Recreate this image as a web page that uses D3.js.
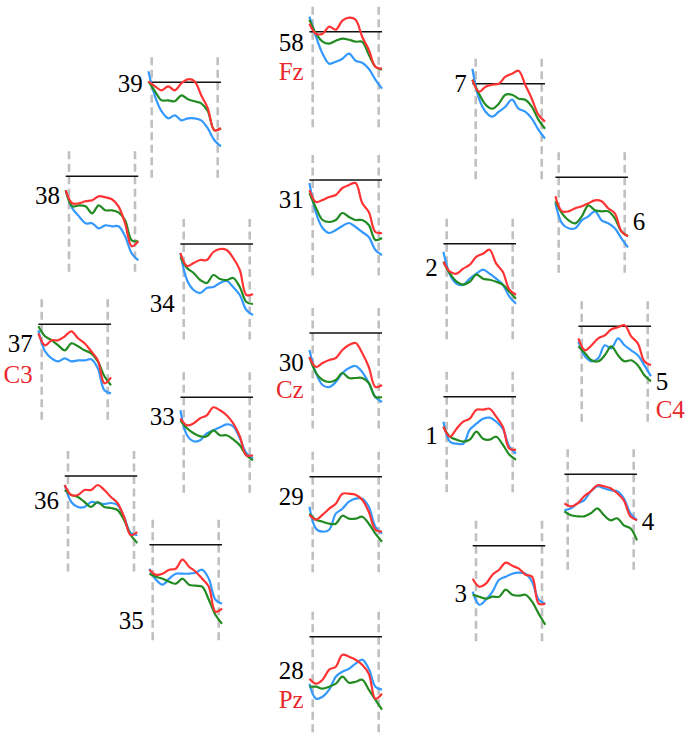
<!DOCTYPE html>
<html>
<head>
<meta charset="utf-8">
<script src="https://cdn.jsdelivr.net/npm/d3@7"></script>
<style>
  body { margin: 0; background: #fff; }
  svg { display: block; }
</style>
</head>
<body>
<div id="chart"></div>
<script>
// channel numbers and 10-20 site names
const channels = ["58", "39", "7", "38", "31", "6", "34", "2", "37", "30", "5", "33", "1", "36", "29", "4", "35", "3", "28"];
const sites = ["Fz", "", "", "", "", "", "", "", "C3", "Cz", "C4", "", "", "", "", "", "", "", "Pz"];

// sample times (ms); dashed markers at 0 and 1000
const times = [-50, 50, 150, 250, 350, 450, 550, 650, 750, 850, 950, 1050];
const markers = [0, 1000];

// amplitude per channel, one row per channel (same order as channels)
const redSeries = [
  [8, -2, -2, 5, 2, 11, 14, 12, -5, -18, -35, -37],
  [1, -4, -8, -4, -8, -1, 3, 1, -13, -26, -48, -46],
  [4, -8, -3, -1, 0, 7, 10, 13, -1, -15, -31, -38],
  [-14, -27, -27, -25, -24, -20, -21, -23, -30, -47, -70, -65],
  [-10, -22, -20, -17, -15, -8, -5, -3, -23, -32, -52, -53],
  [-19, -34, -34, -31, -29, -26, -23, -24, -31, -36, -54, -59],
  [-9, -22, -19, -16, -16, -8, -5, -6, -14, -26, -51, -50],
  [-18, -28, -30, -25, -21, -13, -10, -6, -20, -28, -46, -51],
  [-9, -21, -16, -16, -12, -7, -14, -19, -27, -36, -59, -53],
  [-24, -34, -30, -27, -25, -17, -12, -10, -20, -34, -54, -52],
  [-12, -24, -19, -12, -9, -3, -1, 1, -10, -17, -35, -39],
  [-21, -28, -26, -21, -18, -10, -13, -18, -26, -39, -58, -58],
  [-30, -40, -32, -25, -22, -13, -13, -12, -20, -30, -52, -53],
  [-9, -19, -19, -14, -14, -9, -14, -21, -27, -41, -59, -56],
  [-38, -43, -38, -32, -27, -17, -17, -18, -23, -35, -53, -55],
  [-29, -32, -29, -22, -17, -11, -12, -14, -19, -26, -42, -46],
  [-25, -30, -29, -25, -24, -15, -22, -27, -34, -42, -67, -64],
  [-33, -41, -38, -29, -24, -17, -20, -23, -29, -31, -58, -58],
  [-42, -47, -43, -33, -30, -18, -20, -23, -28, -37, -62, -57]
];
const greenSeries = [
  [12, -2, -10, -12, -9, -7, -8, -10, -10, -23, -35, -38],
  [1, -9, -18, -18, -19, -13, -17, -19, -21, -29, -48, -46],
  [4, -10, -21, -25, -20, -11, -11, -15, -16, -23, -36, -45],
  [-14, -30, -29, -30, -37, -29, -34, -34, -36, -44, -64, -65],
  [-13, -28, -40, -42, -40, -33, -37, -40, -40, -45, -60, -58],
  [-24, -36, -43, -46, -39, -28, -33, -34, -34, -41, -54, -59],
  [-13, -24, -29, -36, -39, -31, -35, -36, -34, -43, -58, -60],
  [-18, -30, -38, -41, -38, -31, -35, -36, -38, -41, -48, -55],
  [-2, -12, -16, -21, -26, -19, -22, -26, -29, -37, -52, -61],
  [-24, -40, -47, -49, -47, -40, -45, -45, -45, -50, -64, -64],
  [-20, -27, -34, -35, -29, -20, -29, -35, -34, -39, -49, -55],
  [-23, -31, -36, -39, -39, -33, -38, -38, -42, -48, -58, -63],
  [-30, -40, -43, -45, -43, -35, -42, -43, -40, -48, -58, -63],
  [-14, -19, -21, -26, -31, -26, -31, -32, -34, -44, -59, -67],
  [-37, -43, -45, -47, -47, -39, -42, -42, -40, -47, -57, -65],
  [-37, -41, -42, -42, -39, -34, -41, -46, -44, -51, -54, -66],
  [-29, -32, -34, -37, -39, -34, -40, -41, -42, -55, -70, -79],
  [-49, -51, -53, -51, -51, -44, -49, -50, -49, -56, -68, -79],
  [-50, -50, -52, -50, -47, -40, -46, -45, -43, -53, -63, -73]
];
const blueSeries = [
  [15, -5, -22, -32, -30, -27, -22, -29, -31, -37, -48, -57],
  [11, -14, -29, -36, -33, -38, -36, -36, -38, -46, -58, -64],
  [15, -15, -28, -33, -28, -23, -16, -25, -28, -35, -46, -55],
  [-14, -32, -40, -47, -47, -52, -49, -50, -50, -60, -77, -84],
  [-3, -33, -48, -53, -50, -46, -43, -47, -52, -57, -70, -75],
  [-26, -46, -51, -51, -43, -39, -34, -43, -46, -51, -61, -70],
  [-9, -36, -46, -49, -44, -43, -39, -37, -43, -51, -66, -71],
  [-8, -31, -40, -41, -35, -30, -26, -30, -35, -41, -53, -60],
  [-6, -27, -34, -37, -34, -37, -36, -36, -35, -44, -66, -69],
  [-17, -40, -52, -54, -49, -40, -35, -33, -39, -50, -64, -69],
  [-15, -30, -35, -32, -19, -22, -12, -19, -24, -29, -39, -50],
  [-13, -38, -44, -43, -36, -33, -30, -27, -29, -41, -56, -61],
  [-25, -45, -47, -47, -33, -27, -22, -21, -25, -32, -50, -57],
  [-9, -26, -31, -31, -26, -27, -28, -27, -29, -41, -57, -59],
  [-30, -52, -55, -53, -37, -32, -25, -22, -22, -30, -50, -57],
  [-36, -34, -29, -26, -17, -12, -14, -16, -17, -24, -39, -46],
  [-24, -35, -40, -34, -29, -29, -29, -28, -25, -34, -55, -59],
  [-46, -59, -54, -46, -34, -31, -28, -27, -28, -36, -54, -58],
  [-47, -62, -60, -53, -40, -35, -32, -27, -23, -32, -50, -53]
];

// scalp layout: x of the 0 ms marker, y of the zero line, label side, label offsets
const layout = [
  { x: 312.7, y: 31.7, side: "left", dy: 19, dy2: 48 },
  { x: 151.7, y: 82.3, side: "left", dy: 9.5 },
  { x: 475.7, y: 83.7, side: "left", dy: 8.6 },
  { x: 69, y: 176.3, side: "left", dy: 27.7 },
  { x: 312.7, y: 180, side: "left", dy: 28 },
  { x: 558.7, y: 177.3, side: "right", dy: 53 },
  { x: 183.7, y: 244, side: "left", dy: 67.7 },
  { x: 446.7, y: 243.7, side: "left", dy: 32 },
  { x: 41.7, y: 324.3, side: "left", dy: 28, dy2: 59 },
  { x: 312.7, y: 333, side: "left", dy: 38.3, dy2: 64.5 },
  { x: 581.7, y: 326.3, side: "right", dy: 63.7, dy2: 91.4 },
  { x: 183.7, y: 397.3, side: "left", dy: 27.7 },
  { x: 446.7, y: 396.7, side: "left", dy: 47.3 },
  { x: 68, y: 476, side: "left", dy: 33.3 },
  { x: 312.7, y: 476.7, side: "left", dy: 28.3 },
  { x: 567.7, y: 474.3, side: "right", dy: 55.7 },
  { x: 152.7, y: 544.7, side: "left", dy: 84 },
  { x: 476, y: 545.7, side: "left", dy: 56.6 },
  { x: 312.7, y: 636.7, side: "left", dy: 42.6, dy2: 71 }
];

const width = 691;
const height = 742;
const panelW = 66;
const labelFont = "'Liberation Serif', 'Times New Roman', Times, serif";

const colors = { red: "#ff3333", green: "#228b22", blue: "#3399ff" };

const svg = d3
  .select("#chart")
  .append("svg")
  .attr("width", width)
  .attr("height", height);

channels.forEach((ch, i) => {
  const p = layout[i];

  // per-panel scales
  const x = d3.scaleLinear().domain([0, 1000]).range([p.x, p.x + panelW]);
  const y = d3.scaleLinear().domain([-100, 25]).range([p.y + 100, p.y - 25]);

  const g = svg.append("g").attr("class", "panel");

  // time markers
  g.selectAll("line.marker")
    .data(markers)
    .enter()
    .append("line")
    .attr("class", "marker")
    .attr("x1", (d) => x(d))
    .attr("x2", (d) => x(d))
    .attr("y1", y(25))
    .attr("y2", y(-100))
    .style("stroke", "#c0c0c0")
    .style("stroke-width", 2.6)
    .style("stroke-dasharray", "8,4.5");

  // zero line
  g.append("line")
    .attr("x1", x(times[0]))
    .attr("x2", x(times[times.length - 1]))
    .attr("y1", y(0))
    .attr("y2", y(0))
    .style("stroke", "#111")
    .style("stroke-width", 1.4);

  const line = d3
    .line()
    .x((d, k) => x(times[k]))
    .y((d) => y(d))
    .curve(d3.curveCatmullRom);

  [
    [blueSeries[i], colors.blue],
    [greenSeries[i], colors.green],
    [redSeries[i], colors.red],
  ].forEach(([vals, c]) => {
    g.append("path")
      .attr("d", line(vals))
      .style("fill", "none")
      .style("stroke", c)
      .style("stroke-width", 2.2)
      .style("stroke-linejoin", "round");
  });

  // channel label
  const lx = p.side === "left" ? x(0) - 9 : x(1000) + 8;
  const anchor = p.side === "left" ? "end" : "start";
  g.append("text")
    .attr("x", lx)
    .attr("y", p.y + p.dy)
    .attr("text-anchor", anchor)
    .attr("font-family", labelFont)
    .attr("font-size", 25)
    .attr("fill", "#000")
    .text(ch);

  if (sites[i]) {
    g.append("text")
      .attr("x", lx)
      .attr("y", p.y + p.dy2)
      .attr("text-anchor", anchor)
      .attr("font-family", labelFont)
      .attr("font-size", 25)
      .attr("fill", "#e8282b")
      .text(sites[i]);
  }
});
</script>
</body>
</html>
